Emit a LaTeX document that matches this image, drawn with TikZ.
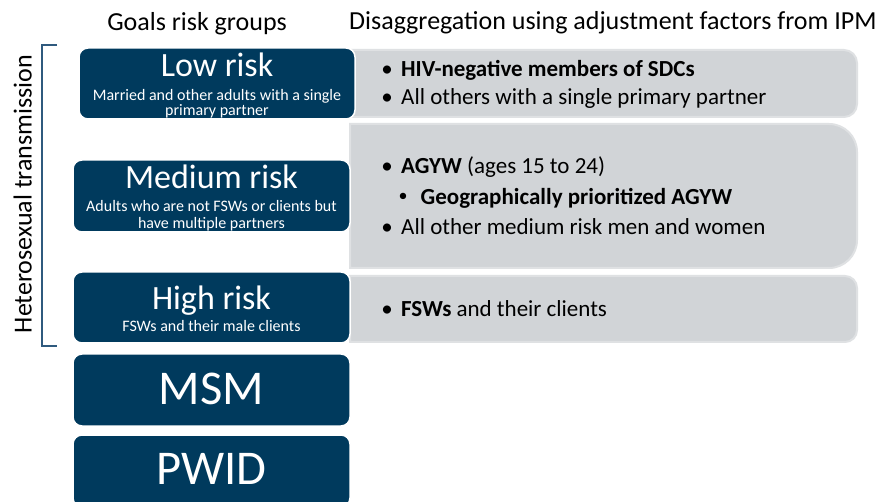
\documentclass[tikz,border=0pt]{standalone}
\usepackage{fontspec}
\setmainfont{Carlito}
\definecolor{navy}{HTML}{003A5D}
\definecolor{grayfill}{HTML}{D1D4D7}
\definecolor{grayedge}{HTML}{DFE1E3}
\definecolor{bracketc}{HTML}{2F5A7E}
\newcommand{\fs}[1]{\fontsize{#1}{#1}\selectfont}
\tikzset{
  darkbox/.style={fill=navy, draw=white, line width=1.5pt, rounded corners=9pt, inner sep=0pt},
  graybox/.style={fill=grayfill, draw=grayedge, line width=2pt},
  wtext/.style={text=white, inner sep=0pt, anchor=base},
  btext/.style={text=black, inner sep=0pt, anchor=base west, font=\fs{23}},
  bulletmark/.style={text=black, inner sep=0pt, anchor=base, font=\fs{23}},
  subbulletmark/.style={text=black, inner sep=0pt, anchor=base, font=\fs{18}},
  htext/.style={text=black, inner sep=0pt, anchor=base},
}
\begin{document}
\begin{tikzpicture}[x=1pt,y=-1pt]
\clip (0,0) rectangle (878,502);
\fill[white] (0,0) rectangle (878,502);

% headers
\node[htext] (h1) at (197,31) {\fs{26}Goals risk groups};
\node[htext, anchor=base west] (h2) at (349,30) {\fs{26}Disaggregation using adjustment factors from IPM};

% bracket
\coordinate (bt) at (57,45);
\coordinate (bb) at (57,346);
\draw[bracketc, line width=1.3pt] (bt) -- (42,45) -- (42,346) -- (bb);
\node[htext, rotate=90] (het) at (31.5,194) {\fs{26}Heterosexual transmission};

% gray boxes
\path[graybox] (600,50) [rounded corners=13pt] -- (857,50) -- (857,117) -- (600,117) [sharp corners] -- (352,117) -- (352,50) -- cycle;
\path[graybox] (600,124) [rounded corners=28pt] -- (857,124) -- (857,268) -- (600,268) [sharp corners] -- (350,268) -- (350,124) -- cycle;
\path[graybox] (600,276) [rounded corners=12pt] -- (857,276) -- (857,342) -- (600,342) [sharp corners] -- (350,342) -- (350,276) -- cycle;

% dark boxes
\node[darkbox, minimum width=276pt, minimum height=71pt] (low) at (217,83.5) {};
\node[darkbox, minimum width=277pt, minimum height=72pt] (med) at (211.5,196) {};
\node[darkbox, minimum width=277pt, minimum height=71pt] (high) at (211.5,307.5) {};
\node[darkbox, minimum width=277pt, minimum height=72pt] (msm) at (211.5,390) {};
\node[darkbox, minimum width=277pt, minimum height=72pt] (pwid) at (211.5,471) {};

% dark box texts
\node[wtext] (lowt) at (217,76.5) {\fs{34}Low risk};
\node[wtext] (lows1) at (217,100.5) {\fs{16}Married and other adults with a single};
\node[wtext] (lows2) at (217,116) {\fs{16}primary partner};
\node[wtext] (medt) at (211.5,188.5) {\fs{34}Medium risk};
\node[wtext] (meds1) at (211.5,212) {\fs{16}Adults who are not FSWs or clients but};
\node[wtext] (meds2) at (211.5,228.5) {\fs{16}have multiple partners};
\node[wtext] (hight) at (211.5,310) {\fs{34}High risk};
\node[wtext] (highs) at (211.5,332) {\fs{16}FSWs and their male clients};
\node[wtext] (msmt) at (211.5,405) {\fs{48.5}MSM};
\node[wtext] (pwidt) at (211.5,484) {\fs{48.5}PWID};

% gray texts
\node[bulletmark] (m1) at (387,77) {\textbullet};
\node[btext] (b1) at (401,77) {\textbf{HIV-negative members of SDCs}};
\node[bulletmark] (m2) at (387,104.5) {\textbullet};
\node[btext] (b2) at (401,104.5) {All others with a single primary partner};
\node[bulletmark] (m3) at (387,174) {\textbullet};
\node[btext] (b3) at (401,174) {\textbf{AGYW} (ages 15 to 24)};
\node[subbulletmark] (m4) at (403,202) {\textbullet};
\node[btext] (b4) at (420.5,204.5) {\textbf{Geographically prioritized AGYW}};
\node[bulletmark] (m5) at (387,234.5) {\textbullet};
\node[btext] (b5) at (401,234.5) {All other medium risk men and women};
\node[bulletmark] (m6) at (387,317) {\textbullet};
\node[btext] (b6) at (401,317) {\textbf{FSWs} and their clients};
\end{tikzpicture}
\end{document}
